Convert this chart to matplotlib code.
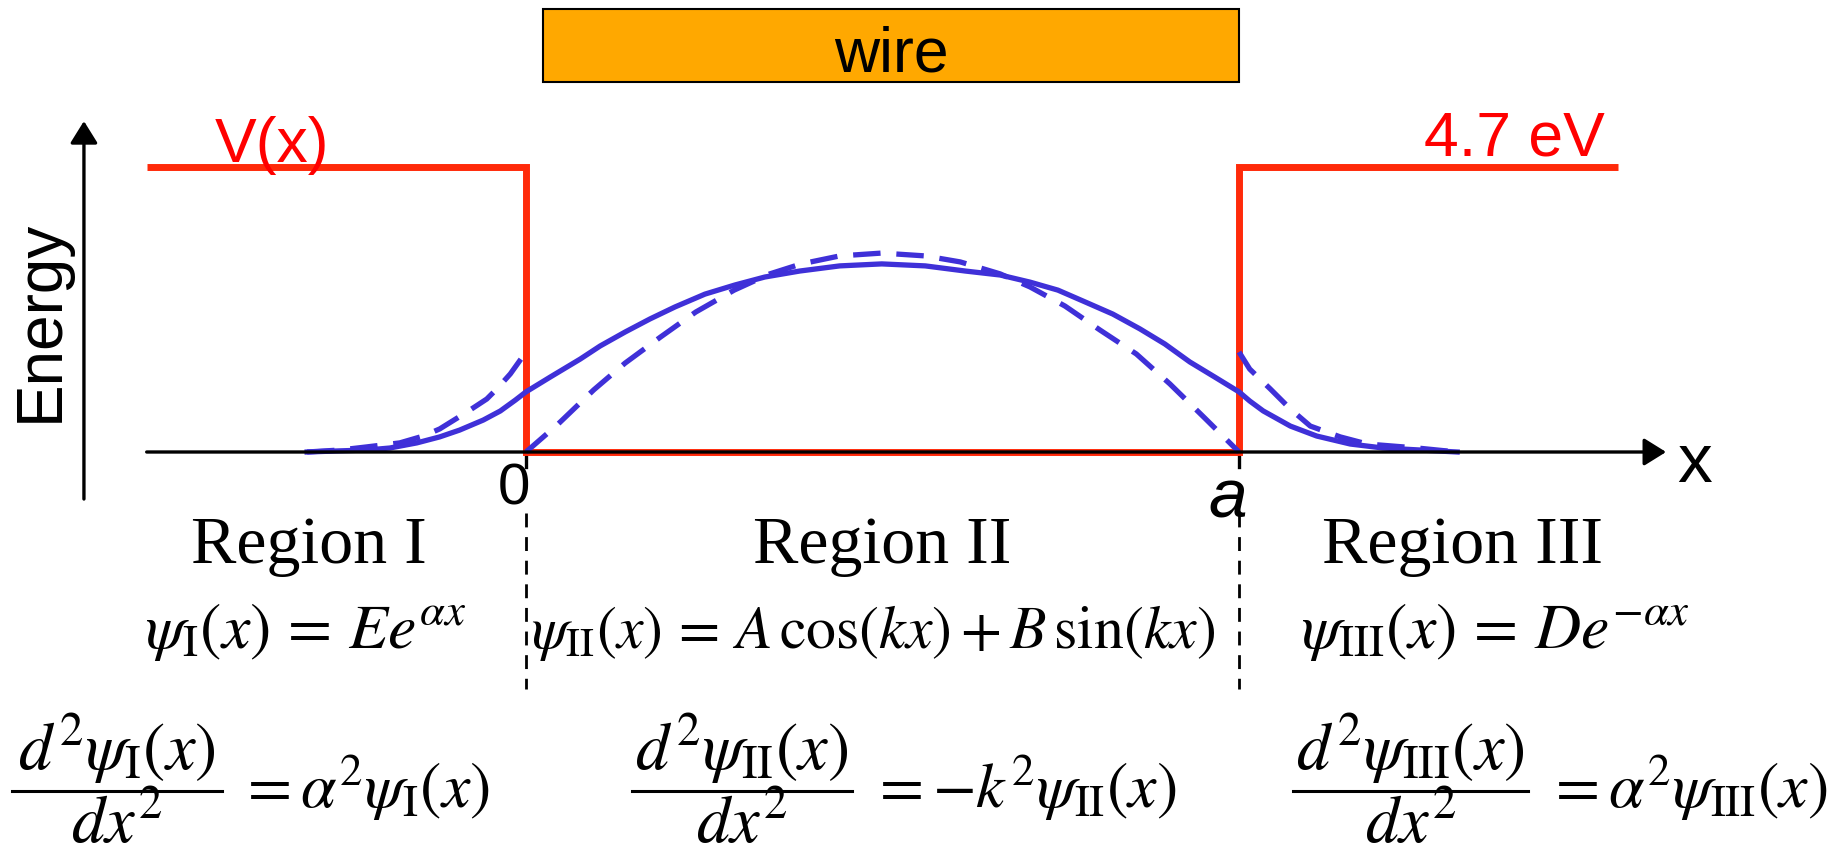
import matplotlib
matplotlib.use('Agg')
import matplotlib.pyplot as plt
from matplotlib.patches import Rectangle
from matplotlib.lines import Line2D

plt.rcParams['mathtext.fontset'] = 'stix'

# x in units of the wire length a, heights in units of the barrier V0 (4.7 eV)
pot_x = [-0.532, 0.0, 0.0, 1.0, 1.0, 1.532]
pot_v = [1.0, 1.0, 0.0, 0.0, 1.0, 1.0]

# finite well wavefunction (solid)
solid_x = [-0.307, -0.261, -0.223, -0.191, -0.153, -0.121, -0.093, -0.060, -0.036, -0.015, 0.0,
           0.034, 0.076, 0.104, 0.139, 0.174, 0.209, 0.251, 0.293, 0.335, 0.384, 0.440, 0.499,
           0.560, 0.616, 0.665, 0.707, 0.746, 0.781, 0.823, 0.861, 0.896, 0.931, 0.966, 1.0,
           1.015, 1.034, 1.072, 1.109, 1.156, 1.202, 1.254, 1.306]
solid_y = [0.0, 0.004, 0.007, 0.014, 0.032, 0.053, 0.077, 0.112, 0.144, 0.182, 0.211,
           0.263, 0.326, 0.372, 0.421, 0.467, 0.509, 0.554, 0.586, 0.614, 0.635, 0.653, 0.660,
           0.653, 0.635, 0.621, 0.596, 0.568, 0.530, 0.484, 0.432, 0.379, 0.316, 0.263, 0.211,
           0.179, 0.144, 0.091, 0.056, 0.028, 0.014, 0.007, 0.0]

# dashed: inside the well and the two tails
dash_in_x = [0.0, 0.045, 0.095, 0.139, 0.189, 0.238, 0.292, 0.342, 0.386, 0.440, 0.499,
             0.560, 0.609, 0.665, 0.707, 0.756, 0.805, 0.856, 0.903, 0.952, 1.0]
dash_in_y = [0.0, 0.098, 0.218, 0.312, 0.404, 0.491, 0.568, 0.625, 0.660, 0.688, 0.698,
             0.688, 0.667, 0.625, 0.579, 0.512, 0.428, 0.344, 0.239, 0.119, 0.0]
dash_left_x = [-0.307, -0.261, -0.223, -0.177, -0.144, -0.121, -0.083, -0.055, -0.041, -0.022, 0.0]
dash_left_y = [0.0, 0.007, 0.018, 0.032, 0.056, 0.081, 0.140, 0.186, 0.221, 0.274, 0.351]
dash_right_x = [1.0, 1.015, 1.044, 1.072, 1.100, 1.142, 1.180, 1.250, 1.306]
dash_right_y = [0.351, 0.291, 0.221, 0.151, 0.091, 0.053, 0.028, 0.014, 0.0]

region_labels = ['Region I', 'Region II', 'Region III']
psi_labels = [r'$\psi_{\mathrm{I}}(x)\,=\,Ee^{\alpha x}$',
              r'$\psi_{\mathrm{II}}(x)\,=\,A\,\cos(kx)+B\,\sin(kx)$',
              r'$\psi_{\mathrm{III}}(x)\,=\,De^{-\alpha x}$']
subs = [r'\mathrm{I}', r'\mathrm{II}', r'\mathrm{III}']
numerators = [r'$d^2\psi_{%s}(x)$' % s for s in subs]
denominator = r'$dx^2$'
rhs_labels = [r'$=\alpha^2\psi_{\mathrm{I}}(x)$',
              r'$=-k^2\psi_{\mathrm{II}}(x)$',
              r'$=\alpha^2\psi_{\mathrm{III}}(x)$']

RED = '#ff2a0a'
BLUE = '#3f30d8'
ORANGE = '#ffa800'
SANS = 'Liberation Sans'
SERIF = 'Liberation Serif'

W, H = 1843, 854
fig = plt.figure(figsize=(W / 100, H / 100), dpi=100)
ax = fig.add_axes([0, 0, 1, 1])
# pixel position of x=0, pixels per a, pixel row of E=0, pixels per V0
X0, A, Y0, VH = 526, 713, 453, 285
ax.set_xlim(-X0 / A, (W - X0) / A)
ax.set_ylim(-(H - Y0) / VH, Y0 / VH)
ax.axis('off')


def fx(px):
    return px / W


def fy(py):
    return 1 - py / H


# axes
arrow = dict(arrowstyle='-|>,head_length=0.45,head_width=0.28', lw=2.4,
             color='black', mutation_scale=30, shrinkA=0, shrinkB=0)
ax.annotate('', xy=(1.599, 0), xytext=(-0.532, 0), arrowprops=arrow)
ax.annotate('', xy=(-0.620, 1.161), xytext=(-0.620, -0.165), arrowprops=arrow)
for xb in [0.0, 1.0]:
    ax.plot([xb, xb], [0, -0.053], color='black', lw=2.4)
    ax.plot([xb, xb], [-0.214, -0.832], color='black', lw=2,
            linestyle=(0, (5, 3.5)))

ax.plot(pot_x, pot_v, color=RED, lw=5, solid_joinstyle='miter',
        solid_capstyle='butt')

ax.plot(solid_x, solid_y, color=BLUE, lw=3.8, solid_joinstyle='round')
for xs, ys in [(dash_in_x, dash_in_y), (dash_left_x, dash_left_y),
               (dash_right_x, dash_right_y)]:
    ax.plot(xs, ys, color=BLUE, lw=3.8, linestyle=(0, (5.2, 3.0)))

ax.add_patch(Rectangle((0.024, 1.298), 0.976, 0.256, facecolor=ORANGE,
                       edgecolor='black', lw=1.5))

fig.text(fx(891), fy(72), 'wire', fontsize=45, family=SANS, ha='center', va='baseline')
fig.text(fx(41), fy(321), 'Energy', fontsize=46, family=SANS, rotation=90,
         ha='center', va='center')
fig.text(fx(215), fy(162), 'V(x)', fontsize=45, family=SANS, color='#ff0000',
         ha='left', va='baseline')
fig.text(fx(1605), fy(156), '4.7 eV', fontsize=45, family=SANS, color='#ff0000',
         ha='right', va='baseline')
fig.text(fx(514), fy(505), '0', fontsize=42, family=SANS, ha='center', va='baseline')
fig.text(fx(1228), fy(517), 'a', fontsize=50, family=SANS, style='italic',
         ha='center', va='baseline')
fig.text(fx(1695), fy(482), 'x', fontsize=50, family=SANS, ha='center', va='baseline')

for cx, lab in zip([309, 882, 1463], region_labels):
    fig.text(fx(cx), fy(563), lab, fontsize=49, family=SERIF, ha='center', va='baseline')
for cx, lab, fs in zip([306, 873, 1495], psi_labels, [46, 43, 46]):
    fig.text(fx(cx), fy(648), lab, fontsize=fs, ha='center', va='baseline')

# second-derivative equations, fraction built by hand to keep it compact
bars = [(12, 222), (632, 852), (1293, 1528)]
rhs_left = [238, 870, 1546]
for (x1, x2), num, rx, rhs in zip(bars, numerators, rhs_left, rhs_labels):
    cx = (x1 + x2) / 2
    fig.add_artist(Line2D([fx(x1), fx(x2)], [fy(792), fy(792)], lw=2.2, color='black'))
    fig.text(fx(cx), fy(770), num, fontsize=48, ha='center', va='baseline')
    fig.text(fx(cx), fy(843), denominator, fontsize=48, ha='center', va='baseline')
    fig.text(fx(rx), fy(808), rhs, fontsize=46, ha='left', va='baseline')

fig.savefig('out.png', dpi=100)
